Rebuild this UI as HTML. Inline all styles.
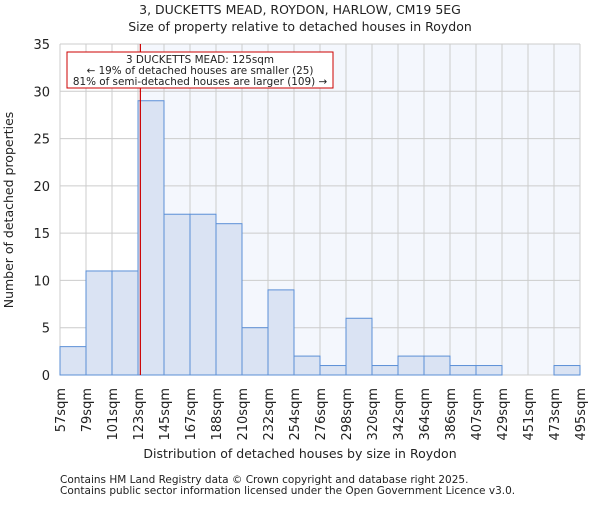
<!DOCTYPE html>
<html><head><meta charset="utf-8"><style>
body{margin:0;background:#fff}
svg text{font-family:"DejaVu Sans","Liberation Sans",sans-serif;fill:#222}
</style></head><body>
<svg width="600" height="500">
<text x="300" y="14" font-size="12.5" text-anchor="middle">3, DUCKETTS MEAD, ROYDON, HARLOW, CM19 5EG</text>
<text x="300" y="31" font-size="12.5" text-anchor="middle">Size of property relative to detached houses in Roydon</text>
<g id="plot"></g>
<text x="300" y="458" font-size="12.5" text-anchor="middle">Distribution of detached houses by size in Roydon</text>
<text transform="translate(13,210) rotate(-90)" font-size="12.5" text-anchor="middle">Number of detached properties</text>
<text x="60" y="483" font-size="10.5">Contains HM Land Registry data © Crown copyright and database right 2025.</text>
<text x="60" y="494" font-size="10.5">Contains public sector information licensed under the Open Government Licence v3.0.</text>
</svg>
<script>
const categories=["57sqm","79sqm","101sqm","123sqm","145sqm","167sqm","188sqm","210sqm","232sqm","254sqm","276sqm","298sqm","320sqm","342sqm","364sqm","386sqm","407sqm","429sqm","451sqm","473sqm","495sqm"];
const counts=[3,11,11,29,17,17,16,5,9,2,1,6,1,2,2,1,1,0,0,1];
const yTicks=[0,5,10,15,20,25,30,35];
const markerIndex=3+2/22;
const NS="http://www.w3.org/2000/svg";
const g=document.getElementById('plot');
const X0=60,X1=580,Y0=375,Y1=44,YMAX=35;
const xs=i=>X0+i*(X1-X0)/counts.length;
const ys=v=>Y0-v*(Y0-Y1)/YMAX;
function mk(t,a){const e=document.createElementNS(NS,t);for(const k in a)e.setAttribute(k,a[k]);g.appendChild(e);return e;}
const mx=xs(markerIndex);
let e=mk('rect',{x:X0,y:Y1,width:X1-X0,height:Y0-Y1,fill:'#fff'});


e=mk('rect',{x:mx,y:Y1,width:X1-mx,height:Y0-Y1,fill:'#f4f7fd'});


yTicks.forEach(v=>{
 e=mk('line',{x1:X0,x2:X1,y1:ys(v),y2:ys(v),stroke:'#ccc','stroke-width':1});
 
 
 e=mk('text',{x:X0-10,y:ys(v)+5,'text-anchor':'end','font-size':13});
 e.textContent=v;
 
 
});
categories.forEach((c,i)=>{
 e=mk('line',{x1:xs(i),x2:xs(i),y1:Y1,y2:Y0,stroke:'#ccc','stroke-width':1});
 
 
 e=mk('text',{transform:`translate(${xs(i)+5},${Y0+13}) rotate(-90)`,'text-anchor':'end','font-size':13});
 e.textContent=c;
 
 
});
counts.forEach((v,i)=>{
 if(v<=0)return;
 e=mk('rect',{x:xs(i),y:ys(v),width:xs(i+1)-xs(i),height:Y0-ys(v),fill:'#dae3f3',stroke:'#5b8fd6','stroke-width':1});
 
 
});
e=mk('line',{x1:mx,x2:mx,y1:Y1,y2:Y0,stroke:'#c00','stroke-width':1.2});


e=mk('rect',{x:67,y:52,width:266,height:36,fill:'#fff',stroke:'#c00','stroke-width':1});


["3 DUCKETTS MEAD: 125sqm","← 19% of detached houses are smaller (25)","81% of semi-detached houses are larger (109) →"].forEach((t,k)=>{
 e=mk('text',{x:200,y:63+k*11,'text-anchor':'middle','font-size':10.4});
 e.textContent=t;
 
 
});
</script>
</body></html>
